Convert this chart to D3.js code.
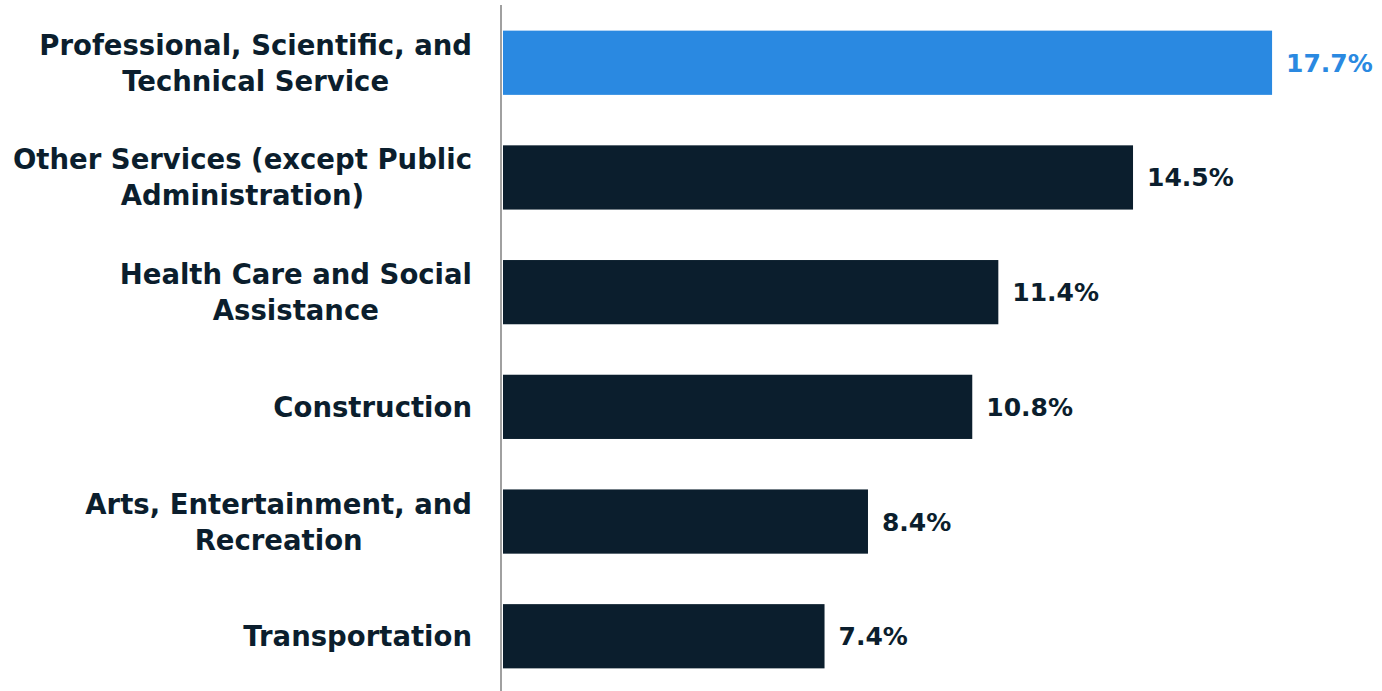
<!DOCTYPE html>
<html>
<head>
<meta charset="utf-8">
<script src="https://cdn.jsdelivr.net/npm/d3@7"></script>
<style>
  body { margin: 0; background: #fff; }
  svg text { font-family: "DejaVu Sans", sans-serif; font-weight: bold; }
</style>
</head>
<body>
<script>
// industries, top to bottom, each split into its label lines
var categories = [
  ["Professional, Scientific, and", "Technical Service"],
  ["Other Services (except Public", "Administration)"],
  ["Health Care and Social", "Assistance"],
  ["Construction"],
  ["Arts, Entertainment, and", "Recreation"],
  ["Transportation"]
];
var values = [17.7, 14.5, 11.4, 10.8, 8.4, 7.4]; // percent
var highlight = 0; // index of the blue bar

var w = 1382, h = 691;
var navy = "#0b1e2d", blue = "#2a89e1";

var svg = d3.select("body").append("svg")
  .attr("width", w)
  .attr("height", h);

var ids = d3.range(values.length);

var y = d3.scaleBand()
  .domain(ids)
  .range([5.4, 693.6])
  .paddingInner(0.44)
  .paddingOuter(0.22);

var x = d3.scaleLinear()
  .domain([0, 20])
  .range([503, 503 + 20 * 43.45]);

// bars
svg.selectAll(".bar")
  .data(ids)
  .enter()
  .append("rect")
  .attr("class", "bar")
  .attr("x", x(0))
  .attr("y", function(i){ return y(i); })
  .attr("width", function(i){ return x(values[i]) - x(0); })
  .attr("height", y.bandwidth())
  .attr("fill", function(i){ return i == highlight ? blue : navy; });

// axis line (left side)
svg.append("line")
  .attr("x1", 501).attr("x2", 501)
  .attr("y1", 5).attr("y2", h)
  .attr("stroke", "#a0a0a0")
  .attr("stroke-width", 2);

// category labels, right edge at 472, lines centred on each other
var lineH = 36, labelRight = 472;
svg.selectAll(".cat")
  .data(ids)
  .enter()
  .append("text")
  .attr("class", "cat")
  .attr("text-anchor", "middle")
  .attr("font-size", 27.5)
  .attr("fill", navy)
  .each(function(i){
    var lines = categories[i];
    var cy = y(i) + y.bandwidth() / 2;
    var t = d3.select(this);
    var spans = lines.map(function(s, k){
      return t.append("tspan")
        .attr("y", cy + (k - (lines.length - 1) / 2) * lineH + 10)
        .text(s);
    });
    var maxW = d3.max(spans, function(sp){ return sp.node().getComputedTextLength(); });
    spans.forEach(function(sp){ sp.attr("x", labelRight - maxW / 2); });
  });

// value labels
svg.selectAll(".val")
  .data(ids)
  .enter()
  .append("text")
  .attr("class", "val")
  .attr("x", function(i){ return x(values[i]) + 14; })
  .attr("y", function(i){ return y(i) + y.bandwidth() / 2 + 9; })
  .attr("font-size", 25)
  .attr("fill", function(i){ return i == highlight ? blue : navy; })
  .text(function(i){ return values[i].toFixed(1) + "%"; });
</script>
</body>
</html>
